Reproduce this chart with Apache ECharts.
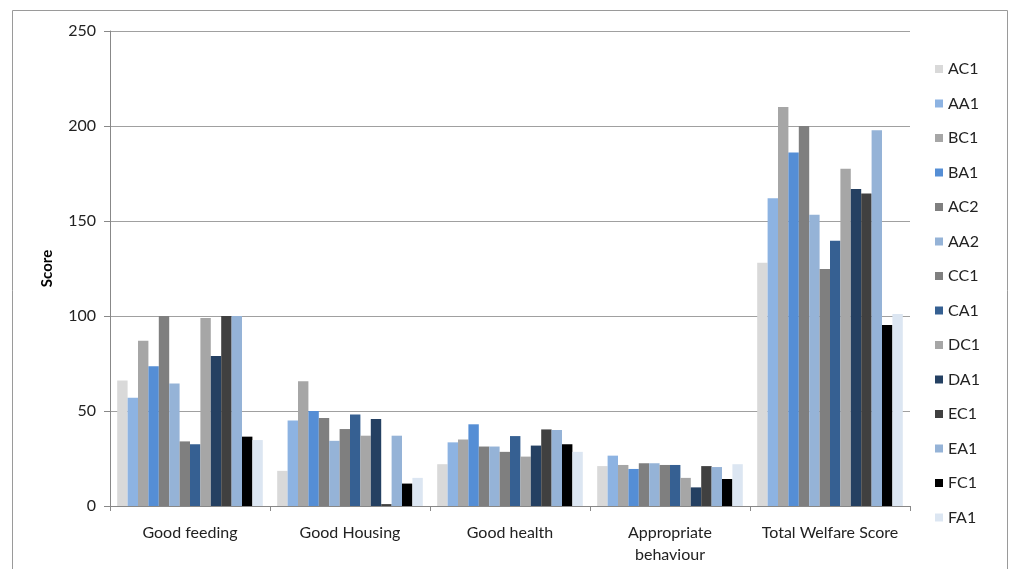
<!DOCTYPE html>
<html>
<head>
<meta charset="utf-8">
<script src="https://cdn.jsdelivr.net/npm/echarts@6/dist/echarts.min.js"></script>
<style>
html, body { margin: 0; padding: 0; background: #fff; }
#chart { width: 1011px; height: 569px; }
</style>
</head>
<body>
<div id="chart"></div>
<script>
var categories = ['Good feeding', 'Good Housing', 'Good health', 'Appropriate\nbehaviour', 'Total Welfare Score'];
var seriesNames = ['AC1', 'AA1', 'BC1', 'BA1', 'AC2', 'AA2', 'CC1', 'CA1', 'DC1', 'DA1', 'EC1', 'EA1', 'FC1', 'FA1'];
var colors = ['#d9d9d9', '#8db3e2', '#a6a6a6', '#558ed5', '#7f7f7f', '#95b3d7', '#7f7f7f',
              '#366092', '#a6a6a6', '#244062', '#404040', '#95b3d7', '#000000', '#dce6f2'];

// one row per series, values in category order
var AC1 = [66, 18.5, 22, 21, 128];
var AA1 = [57, 45, 33.5, 26.5, 162];
var BC1 = [87, 65.7, 35, 21.6, 210];
var BA1 = [73.5, 50, 43, 19.5, 186];
var AC2 = [100, 46.3, 31.3, 22.5, 200];
var AA2 = [64.5, 34.3, 31.3, 22.5, 153.3];
var CC1 = [34, 40.5, 28.5, 21.6, 124.7];
var CA1 = [32.5, 48.2, 36.8, 21.6, 139.6];
var DC1 = [99, 37, 26, 14.8, 177.5];
var DA1 = [79, 45.8, 31.8, 9.8, 166.8];
var EC1 = [100, 1, 40.3, 21, 164.5];
var EA1 = [100, 37, 40, 20.5, 197.7];
var FC1 = [36.5, 11.8, 32.5, 14.2, 95.2];
var FA1 = [34.7, 14.8, 28.5, 22, 101];
var values = [AC1, AA1, BC1, BA1, AC2, AA2, CC1, CA1, DC1, DA1, EC1, EA1, FC1, FA1];

var font = 'Lato, "Open Sans", sans-serif';

var dom = document.getElementById('chart');
var myChart = echarts.init(dom);

var series = seriesNames.map(function (name, i) {
    return {
        name: name,
        type: 'bar',
        data: values[i],
        barGap: '0%',
        barCategoryGap: '9%',
        itemStyle: { color: colors[i] },
        emphasis: { disabled: true }
    };
});

var option = {
    animation: false,
    color: colors,
    textStyle: { fontFamily: font },
    graphic: [{
        type: 'rect',
        shape: { x: 12.5, y: 10.5, width: 995, height: 600 },
        style: { fill: null, stroke: '#9a9a9a', lineWidth: 1 },
        silent: true
    }],
    grid: {
        left: 110,
        right: 101,
        top: 31,
        bottom: 63
    },
    legend: {
        orient: 'vertical',
        left: 935,
        top: 60,
        height: 490,
        padding: 0,
        itemWidth: 8,
        itemHeight: 8,
        itemGap: 16.5,
        icon: 'rect',
        textStyle: { fontFamily: font, fontSize: 16, color: '#222', lineHeight: 18 },
        data: seriesNames
    },
    xAxis: {
        type: 'category',
        data: categories,
        axisLine: { lineStyle: { color: '#888' } },
        axisTick: { show: true, length: 5, lineStyle: { color: '#888' } },
        axisLabel: {
            interval: 0,
            color: '#222',
            fontSize: 16,
            fontFamily: font,
            margin: 16,
            lineHeight: 22
        }
    },
    yAxis: {
        type: 'value',
        min: 0,
        max: 250,
        interval: 50,
        name: 'Score',
        nameLocation: 'middle',
        nameGap: 55,
        nameRotate: 90,
        nameTextStyle: { fontFamily: font, fontSize: 15, fontWeight: 'bold', color: '#000' },
        axisLine: { show: true, lineStyle: { color: '#888' } },
        axisTick: { show: true, length: 6, lineStyle: { color: '#888' } },
        axisLabel: { color: '#222', fontSize: 16, fontFamily: font, margin: 14 },
        splitLine: { lineStyle: { color: '#a0a0a0', width: 1 } }
    },
    series: series
};
myChart.setOption(option);
</script>
</body>
</html>
